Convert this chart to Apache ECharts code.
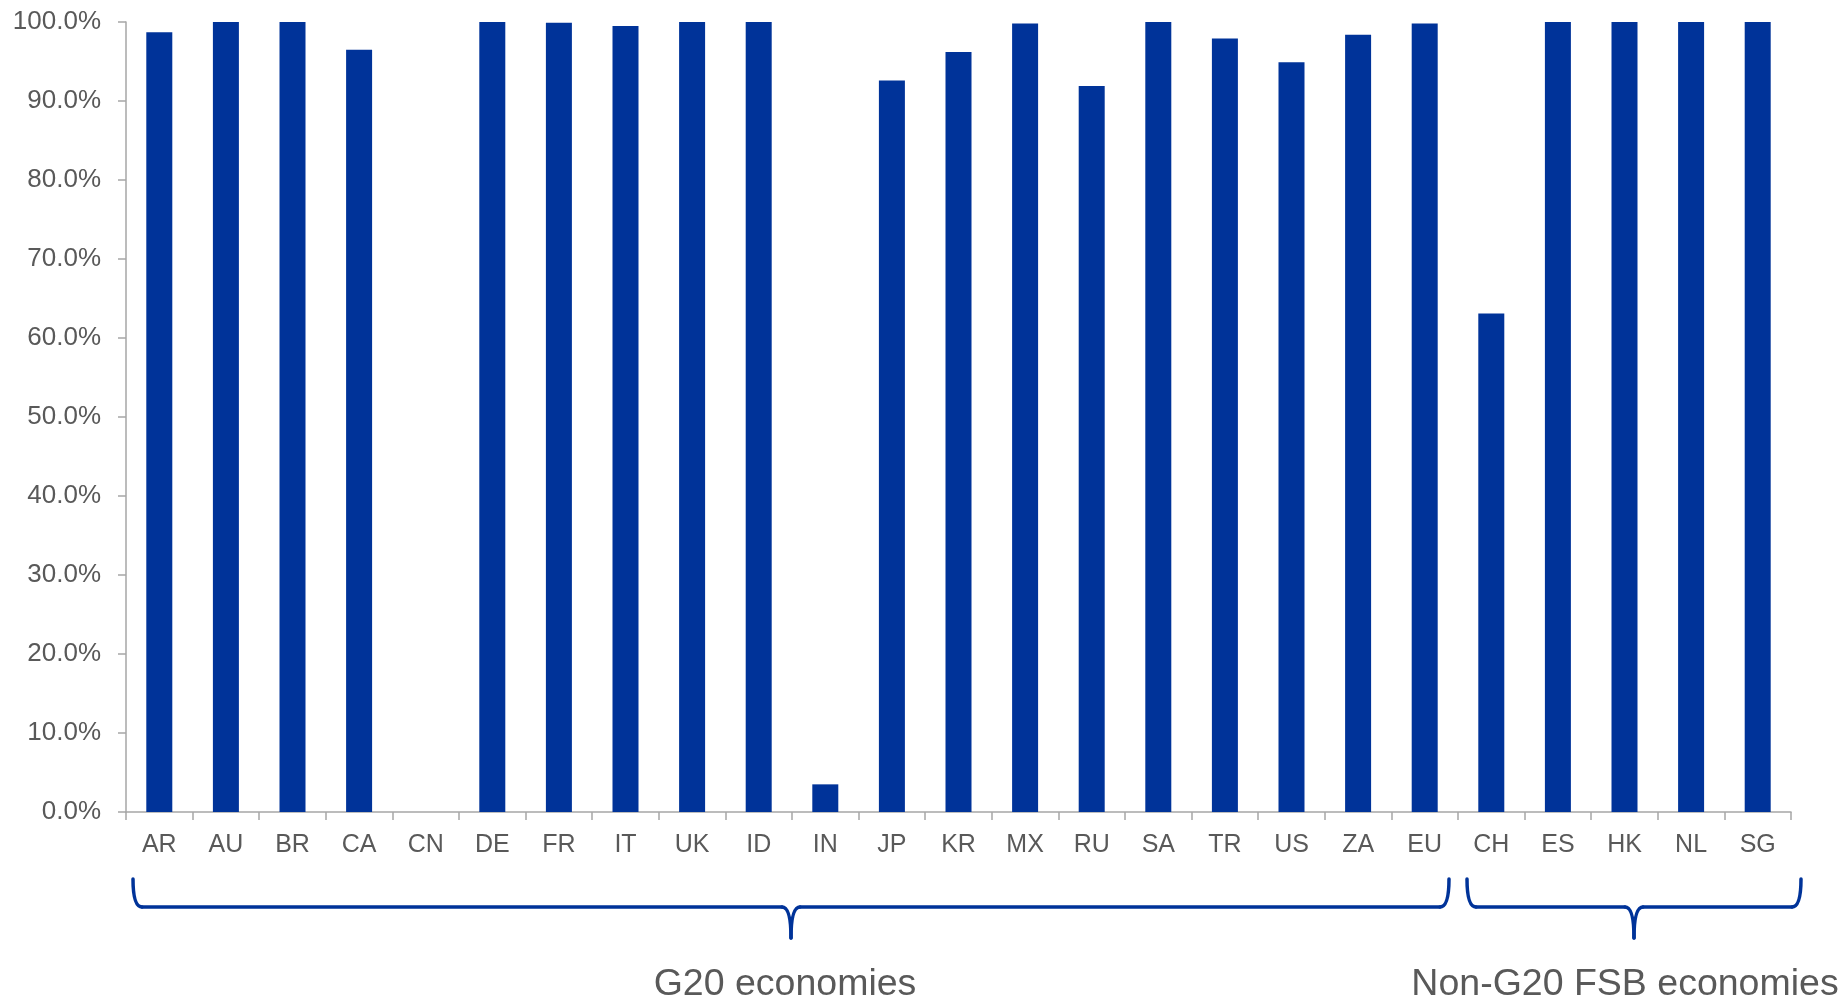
<!DOCTYPE html>
<html>
<head>
<meta charset="utf-8">
<script src="https://cdn.jsdelivr.net/npm/echarts@6/dist/echarts.min.js"></script>
<style>
html,body{margin:0;padding:0;background:#fff;}
#chart{width:1843px;height:1000px;}
</style>
</head>
<body>
<div id="chart"></div>
<script>
// Categories (economies)
const categories = ['AR','AU','BR','CA','CN','DE','FR','IT','UK','ID','IN','JP','KR','MX','RU','SA','TR','US','ZA','EU','CH','ES','HK','NL','SG'];
// Values (%)
const values = [98.7,100,100,96.5,0,100,99.9,99.5,100,100,3.5,92.6,96.2,99.8,91.9,100,97.9,94.9,98.4,99.8,63.1,100,100,100,100];
// Y-axis ticks
const yMin = 0, yMax = 100, yInterval = 10;
// Category groups shown with braces
const groupNames = ['G20 economies', 'Non-G20 FSB economies'];
const groupStart = [0, 20];
const groupEnd = [19, 24];

const BLUE = '#003399';
const GREY_TEXT = '#595959';
const AXIS = '#a6a6a6';
const FONT = '"Liberation Sans", Arial, sans-serif';

const chart = echarts.init(document.getElementById('chart'));
chart.setOption({
  animation: false,
  backgroundColor: '#ffffff',
  grid: {left: 126, right: 52, top: 22, bottom: 188, containLabel: false},
  xAxis: {
    type: 'category',
    data: categories,
    boundaryGap: true,
    axisLine: {show: true, lineStyle: {color: AXIS, width: 1.5}},
    axisTick: {show: true, alignWithLabel: false, length: 8, lineStyle: {color: AXIS, width: 1.5}},
    axisLabel: {color: GREY_TEXT, fontSize: 25, fontFamily: FONT, margin: 21, interval: 0}
  },
  yAxis: {
    type: 'value',
    min: yMin, max: yMax, interval: yInterval,
    splitLine: {show: false},
    axisLine: {show: true, lineStyle: {color: AXIS, width: 1.5}},
    axisTick: {show: true, length: 8, lineStyle: {color: AXIS, width: 1.5}},
    axisLabel: {color: GREY_TEXT, fontSize: 26, fontFamily: FONT, margin: 25,
      formatter: v => v.toFixed(1) + '%'}
  },
  series: [{
    type: 'bar',
    data: values,
    barWidth: 26,
    itemStyle: {color: BLUE}
  }]
});

function drawBraces() {
  const c0 = chart.convertToPixel({xAxisIndex: 0}, 0);
  const c1 = chart.convertToPixel({xAxisIndex: 0}, 1);
  const bw = c1 - c0;
  const y0 = chart.convertToPixel({yAxisIndex: 0}, 0);
  const yTop = y0 + 67, yMid = y0 + 95, yTip = y0 + 126, yText = y0 + 173;
  const r = 9;
  const insetL = [7, 9], insetR = [-9, 10];
  const stroke = {stroke: BLUE, lineWidth: 3.5, lineCap: 'round', fill: null};
  const elements = [];
  const bez = (x1, y1, cx, cy, x2, y2) => ({
    type: 'bezierCurve', silent: true,
    shape: {x1: x1, y1: y1, x2: x2, y2: y2, cpx1: cx, cpy1: cy},
    style: stroke
  });
  const line = (x1, y1, x2, y2) => ({
    type: 'line', silent: true,
    shape: {x1: x1, y1: y1, x2: x2, y2: y2},
    style: stroke
  });
  for (let g = 0; g < groupNames.length; g++) {
    const xs = chart.convertToPixel({xAxisIndex: 0}, groupStart[g]);
    const xe = chart.convertToPixel({xAxisIndex: 0}, groupEnd[g]);
    const x0 = xs - bw / 2 + insetL[g];
    const x1 = xe + bw / 2 + insetR[g];
    const xc = (x0 + x1) / 2;
    elements.push(bez(x0, yTop, x0, yMid, x0 + r, yMid));
    elements.push(line(x0 + r, yMid, xc - r, yMid));
    elements.push(bez(xc - r, yMid, xc, yMid, xc, yTip));
    elements.push(bez(xc, yTip, xc, yMid, xc + r, yMid));
    elements.push(line(xc + r, yMid, x1 - r, yMid));
    elements.push(bez(x1 - r, yMid, x1, yMid, x1, yTop));
    elements.push({
      type: 'text', silent: true,
      x: xc + (g === 0 ? -6 : -9), y: yText,
      style: {text: groupNames[g], fill: GREY_TEXT, font: '37.5px ' + FONT,
        textAlign: 'center', textVerticalAlign: 'middle'}
    });
  }
  chart.setOption({graphic: {elements: elements}});
}
drawBraces();
</script>
</body>
</html>
